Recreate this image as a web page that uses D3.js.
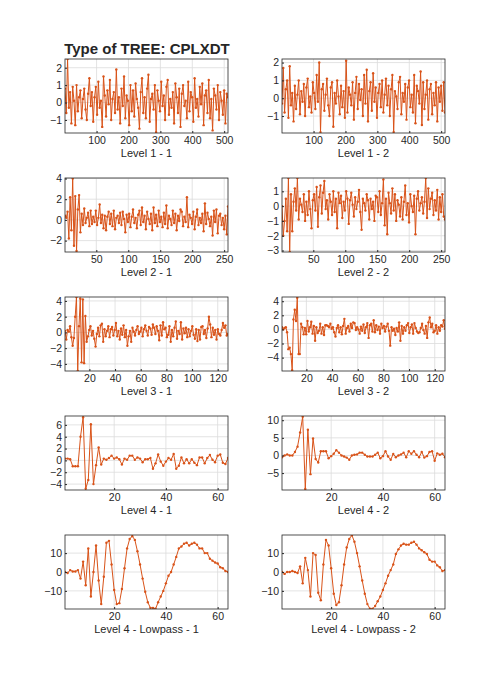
<!DOCTYPE html>
<html>
<head>
<meta charset="utf-8">
<script src="https://cdn.jsdelivr.net/npm/d3@7"></script>
<style>
body { margin: 0; background: #fff; }
text { font-family: "Liberation Sans", Arial, sans-serif; fill: #262626; }
</style>
</head>
<body>
<div id="chart"></div>
<script>
// ---- data (coarsened for the long series) ----
const level1_1 = [0.8,-0.6,2.5,-0.3,0.6,-1.2,0.9,0.1,-1.3,1.0,-0.5,0.3,0.7,-0.9,0.2,0.8,-0.4,-1.0,0.5,1.4,-0.2,0.6,-1.1,0.3,0.9,-0.7,1.2,-0.3,0.1,-1.4,1.5,0.4,-0.8,0.7,-0.1,1.3,-1.0,0.2,0.6,-0.6,1.9,-0.4,0.3,-1.2,0.8,-0.2,1.5,-0.9,0.4,0.1,-1.3,1.0,-0.5,0.7,-0.8,1.1,0.2,-0.3,-1.5,0.6,1.4,-0.6,0.3,-0.9,0.8,1.6,-1.1,0.2,0.5,-0.4,1.0,-1.7,0.7,0.1,-0.5,1.2,-0.2,0.4,-1.0,0.9,1.3,-0.7,0.2,-0.3,0.6,-1.2,1.1,0.3,-0.6,0.8,-1.4,0.5,1.0,-0.2,0.1,-0.9,1.2,-0.5,0.6,0.3,-1.1,1.4,-0.3,0.2,-0.8,0.9,-0.1,1.1,-1.3,0.4,0.7,-0.6,1.3,-0.9,0.2,-1.6,0.8,0.4,-0.4,1.0,-1.0,0.6,0.1,-0.7,0.7,-1.2,0.5,0.3];
const level1_2 = [-0.3,1.7,-0.8,0.5,1.0,-1.1,1.8,-0.4,0.3,-1.3,0.7,-0.6,0.2,1.0,-0.9,0.4,-0.2,0.8,-1.0,0.6,1.1,-0.5,0.1,-0.8,0.9,0.3,-0.6,1.3,-0.2,2.0,-1.9,0.5,0.8,-0.7,0.2,1.1,-0.4,-1.0,0.6,0.9,-1.6,0.3,-0.3,1.0,0.1,-0.9,0.7,-0.5,0.4,-1.1,2.1,-0.8,0.6,0.2,-0.4,0.9,-1.2,0.3,1.2,-0.6,0.8,-0.1,0.5,-1.0,1.3,-0.3,1.6,-1.3,0.4,0.9,-0.7,1.4,-0.2,0.6,-1.1,0.3,0.8,-0.5,1.0,-0.8,0.2,1.1,-0.4,0.7,-1.0,0.5,1.3,-1.9,0.4,0.1,-0.6,0.9,1.2,-0.9,0.3,-0.2,0.8,-1.2,0.6,1.0,-0.5,0.2,-0.8,1.3,-1.4,0.7,0.4,-0.3,1.5,-1.5,0.9,-0.6,0.2,1.0,-1.2,0.5,0.8,-0.9,0.3,-0.4,0.9,-1.3,0.6,-0.2,0.7,-0.7,0.9,-0.8];
const level2_1 = [0.4,0.2,0.8,-1.8,2.2,-1.0,4.0,-2.5,2.3,-3.0,1.0,2.4,-1.2,0.6,-0.5,1.1,-0.3,0.2,0.7,-0.6,0.9,-0.4,0.3,-0.2,0.9,-0.5,0.2,1.5,-0.3,0.5,-0.8,0.4,-1.0,0.3,0.8,-0.4,0.6,-0.6,0.9,-0.9,0.2,0.4,-0.3,0.7,-0.5,0.8,0.1,-1.2,0.5,-0.2,0.6,-0.7,0.3,1.0,-0.3,0.2,-0.8,0.5,0.9,-0.5,1.2,-0.2,0.4,-0.9,0.8,0.1,-0.4,0.6,-1.0,1.2,-0.3,0.5,-0.6,0.9,-0.2,0.3,-0.7,0.7,-0.4,1.4,-0.8,0.4,0.1,-0.5,0.9,-0.3,0.6,-1.0,0.4,-0.1,1.0,0.8,-0.6,0.3,-0.2,2.2,-0.7,0.5,0.2,-0.4,0.8,-0.9,0.3,1.0,-0.5,0.2,-0.3,0.6,-1.1,1.6,-0.4,0.7,0.1,-0.6,0.3,-1.5,0.9,-0.2,1.0,-1.3,0.4,0.6,-0.5,0.2,-0.9,0.4,-1.4,1.3];
const level2_2 = [0.0,-2.0,-1.0,0.5,-1.7,1.9,-3.1,0.8,-1.7,0.3,1.2,-0.3,1.9,-0.9,0.5,0.1,-0.4,0.8,-1.0,0.3,-0.6,1.0,-0.2,-1.5,0.4,0.8,-0.3,1.3,-1.4,0.6,1.4,-0.5,0.9,1.7,-0.2,0.4,-0.9,0.8,0.3,-0.6,1.0,-0.4,0.5,-1.5,0.9,0.2,0.7,-0.8,0.3,-0.3,1.0,0.5,-1.2,0.4,0.9,0.1,-0.7,0.6,-0.2,0.3,1.1,-0.4,-1.6,0.5,0.2,-0.3,0.8,0.4,-0.9,0.5,-0.2,0.3,-1.0,0.7,0.6,-0.4,1.0,-0.6,0.2,1.8,-1.3,0.5,-1.9,0.9,0.2,-0.5,1.2,-0.3,0.8,-1.0,0.4,0.1,-0.7,0.6,-0.9,0.3,1.4,-0.6,0.2,-1.1,0.8,0.0,-0.4,0.7,-1.9,0.5,1.0,-0.3,0.2,0.6,-0.5,0.3,1.9,-0.8,1.2,-0.2,0.5,0.9,-0.6,0.4,-0.3,1.1,-0.9,0.6,-0.4,0.8,-0.7,-0.9];
const level3_1 = [0.2,-0.9,0.3,0.1,0.8,-0.6,-1.7,-0.7,2.0,4.5,-4.9,0.8,4.3,-3.8,4.2,-3.9,2.1,-1.2,-0.5,0.3,0.8,-0.4,0.2,-0.8,-1.8,-0.2,0.6,-0.5,0.9,1.1,-1.2,0.4,-0.5,0.2,0.8,-0.6,0.4,0.7,-0.4,0.3,1.2,-0.5,0.2,-0.9,0.5,-0.3,0.9,-0.6,0.3,-1.7,-0.5,0.2,-1.2,0.6,0.1,-0.4,0.3,0.8,-0.2,0.1,0.6,-0.5,0.4,0.9,0.2,-0.4,0.7,0.5,-0.3,1.0,0.6,-0.2,0.8,0.2,-1.0,0.9,-0.4,1.3,0.4,0.6,-0.6,-0.3,0.8,-1.2,0.3,-0.5,0.6,1.4,-0.8,0.2,-0.2,1.3,-0.9,0.5,-0.1,0.6,-0.6,0.4,-0.5,0.2,0.8,-0.3,-0.8,0.4,-1.1,0.3,-0.9,0.7,0.8,-0.2,0.3,-0.7,0.5,2.0,1.0,-0.6,0.6,-0.3,0.3,-0.9,0.4,-0.2,-0.4,0.3,1.2,0.6,0.9,-0.4,-0.2];
const level3_2 = [0.3,0.0,0.2,0.3,-0.4,-2.8,-2.6,-3.5,-5.8,1.4,2.8,1.2,4.5,-3.5,-3.5,0.8,0.3,-0.7,0.2,-0.7,1.2,-0.3,0.3,1.1,-0.6,0.5,-1.6,0.3,-0.5,-0.2,0.8,-0.6,0.3,-0.8,0.6,0.6,0.5,0.3,0.8,0.1,0.3,-0.4,-1.0,0.2,0.6,-0.4,0.3,-0.7,0.5,1.5,-0.6,0.2,0.5,-0.3,0.8,0.2,1.0,0.9,-0.1,0.3,0.0,-0.6,0.4,-0.2,0.7,-0.5,0.3,0.9,-1.2,0.6,0.8,-0.3,1.3,-0.4,0.6,-0.1,0.4,-0.6,0.8,0.2,0.5,-0.3,0.4,0.8,-0.2,-2.3,0.3,-0.2,0.1,-0.8,0.2,-0.3,1.0,-1.6,0.5,-0.6,0.3,-0.2,0.6,0.9,-0.5,0.3,0.7,-0.6,0.9,0.2,-0.3,-0.5,-0.4,0.2,0.8,-0.1,-0.6,0.5,-1.2,1.0,1.7,0.3,0.8,-0.4,-0.2,0.6,-0.6,0.3,-0.2,0.6,0.4,1.3,0.1];
const level4_1 = [0.3,0.3,0.2,-1.0,-1.0,-1.0,4.0,7.3,-4.8,-3.3,6.1,-4.0,-0.8,2.2,-0.7,0.3,0.1,0.4,0.8,0.3,0.5,0.2,-0.7,0.3,0.1,0.8,0.8,0.1,0.5,0.3,-0.3,0.2,0.2,0.4,-1.4,-0.5,1.0,-0.2,-0.9,-0.2,0.4,0.1,1.1,-1.4,-0.9,0.5,-0.5,0.2,-0.5,0.2,-0.4,-0.8,0.5,0.5,-0.5,0.4,0.9,0.1,-0.3,0.8,1.0,-0.4,-0.6,0.4];
const level4_2 = [-0.5,0.0,0.3,0.0,0.0,1.0,2.5,6.5,11.0,-9.5,7.3,-5.3,4.8,-1.0,-2.0,1.2,1.2,1.2,-0.8,-0.2,0.5,1.5,0.8,0.0,-0.3,-0.6,-1.2,0.0,0.2,0.3,0.8,0.8,0.2,-0.3,-0.3,-0.3,0.2,0.8,-0.8,-0.2,1.2,-0.3,-1.2,0.4,-0.5,0.0,0.3,0.8,-0.5,1.2,0.5,1.2,0.2,-0.5,1.0,-0.6,-0.2,1.0,1.2,-1.5,0.6,0.2,0.5,-0.5];
const lowpass_1 = [0,-0.5,1,0.3,0.3,1,-3.5,5.5,-7,12.5,-13,0,14,-4.5,-17,-2.5,15.5,16.5,4,-9.5,-17,-16.5,-9,2,12.5,17.5,19,17,11,4,-3.5,-10.5,-16,-19,-19,-19.5,-16,-13,-10,-6,-2,0,4,8,12.5,13.5,15,15.5,14,15,15.5,14.5,12.5,12.5,10,10,7,6,5,4.5,2.5,2,0.5,0];
const lowpass_2 = [0,-1,0,0,0.5,0,-0.5,3,-6,7.5,1,-13,10,9,-11,-15,4,17,14,2,-11.5,-17.5,-16,-7,4,13,17.5,19.5,16,10,3,-4.5,-11.5,-17,-19.5,-19.5,-18,-15.5,-13,-9.5,-6,-2,1,4,9.5,12,14,15,14.5,14.5,15.5,16,14.5,12.5,11.5,10.5,9.5,6.5,5.5,5.5,3.5,2.5,0.5,1];

const panels = [
  {label: "Level 1 - 1", values: level1_1, n: 512, y: [-1.75, 2.5], yt: [-1,0,1,2], xt: [100,200,300,400,500]},
  {label: "Level 1 - 2", values: level1_2, n: 512, y: [-1.95, 2.2], yt: [-1,0,1,2], xt: [100,200,300,400,500]},
  {label: "Level 2 - 1", values: level2_1, n: 256, y: [-3.1, 4.05], yt: [-2,0,2,4], xt: [50,100,150,200,250]},
  {label: "Level 2 - 2", values: level2_2, n: 256, y: [-3.1, 1.9], yt: [-3,-2,-1,0,1], xt: [50,100,150,200,250]},
  {label: "Level 3 - 1", values: level3_1, n: 128, y: [-4.9, 4.5], yt: [-4,-2,0,2,4], xt: [20,40,60,80,100,120]},
  {label: "Level 3 - 2", values: level3_2, n: 128, y: [-5.9, 4.6], yt: [-4,-2,0,2,4], xt: [20,40,60,80,100,120]},
  {label: "Level 4 - 1", values: level4_1, n: 64, y: [-5, 7.5], yt: [-4,-2,0,2,4,6], xt: [20,40,60]},
  {label: "Level 4 - 2", values: level4_2, n: 64, y: [-9.8, 11.2], yt: [-5,0,5,10], xt: [20,40,60]},
  {label: "Level 4 - Lowpass - 1", values: lowpass_1, n: 64, y: [-19.6, 19.6], yt: [-10,0,10], xt: [20,40,60]},
  {label: "Level 4 - Lowpass - 2", values: lowpass_2, n: 64, y: [-19.6, 19.6], yt: [-10,0,10], xt: [20,40,60]}
];

const W = 492, H = 688;
const colLeft = [65, 282], pw = 163, ph = 74;
const rowTop = [59, 178, 297, 416, 535];
const lineColor = "#d95319";

const svg = d3.select("#chart").append("svg").attr("width", W).attr("height", H);

svg.append("text")
  .attr("x", 147).attr("y", 54)
  .attr("text-anchor", "middle")
  .style("font-size", "15px").style("font-weight", "bold")
  .text("Type of TREE: CPLXDT");

panels.forEach((p, k) => {
  const left = colLeft[k % 2], top = rowTop[Math.floor(k / 2)];
  const g = svg.append("g").attr("transform", "translate(" + left + "," + top + ")");
  const step = (p.n - 1) / (p.values.length - 1);
  const pts = p.values.map((v, i) => ({x: 1 + i * step, y: v}));

  const x = d3.scaleLinear().domain([1, p.n]).range([0, pw]);
  const y = d3.scaleLinear().domain(p.y).range([ph, 0]);

  // grid
  g.selectAll(".gx").data(p.xt).enter().append("line")
    .attr("x1", d => x(d)).attr("x2", d => x(d)).attr("y1", 0).attr("y2", ph)
    .attr("stroke", "#dcdcdc").attr("stroke-width", 0.8);
  g.selectAll(".gy").data(p.yt).enter().append("line")
    .attr("y1", d => y(d)).attr("y2", d => y(d)).attr("x1", 0).attr("x2", pw)
    .attr("stroke", "#dcdcdc").attr("stroke-width", 0.8);

  const clipId = "clip" + k;
  g.append("clipPath").attr("id", clipId).append("rect").attr("width", pw).attr("height", ph);
  const plot = g.append("g").attr("clip-path", "url(#" + clipId + ")");

  plot.append("path").datum(pts)
    .attr("d", d3.line().x(d => x(d.x)).y(d => y(d.y)))
    .attr("fill", "none").attr("stroke", lineColor).attr("stroke-width", 1);
  plot.selectAll("circle").data(pts).enter().append("circle")
    .attr("cx", d => x(d.x)).attr("cy", d => y(d.y)).attr("r", 1.2)
    .attr("fill", lineColor);

  const fmt = d3.format("d");
  const xa = g.append("g").attr("transform", "translate(0," + ph + ")")
    .call(d3.axisBottom(x).tickValues(p.xt).tickFormat(fmt).tickSize(-2).tickPadding(4));
  const ya = g.append("g")
    .call(d3.axisLeft(y).tickValues(p.yt).tickFormat(fmt).tickSize(-2).tickPadding(3));
  [xa, ya].forEach(a => {
    a.select(".domain").remove();
    a.selectAll("line").attr("stroke", "#262626");
    a.selectAll("text").style("font-size", "10.5px").attr("fill", "#262626");
  });
  g.append("rect").attr("width", pw).attr("height", ph)
    .attr("fill", "none").attr("stroke", "#262626").attr("stroke-width", 0.8);

  g.append("text").attr("x", pw / 2).attr("y", ph + 24)
    .attr("text-anchor", "middle").style("font-size", "11px").text(p.label);
});
</script>
</body>
</html>
